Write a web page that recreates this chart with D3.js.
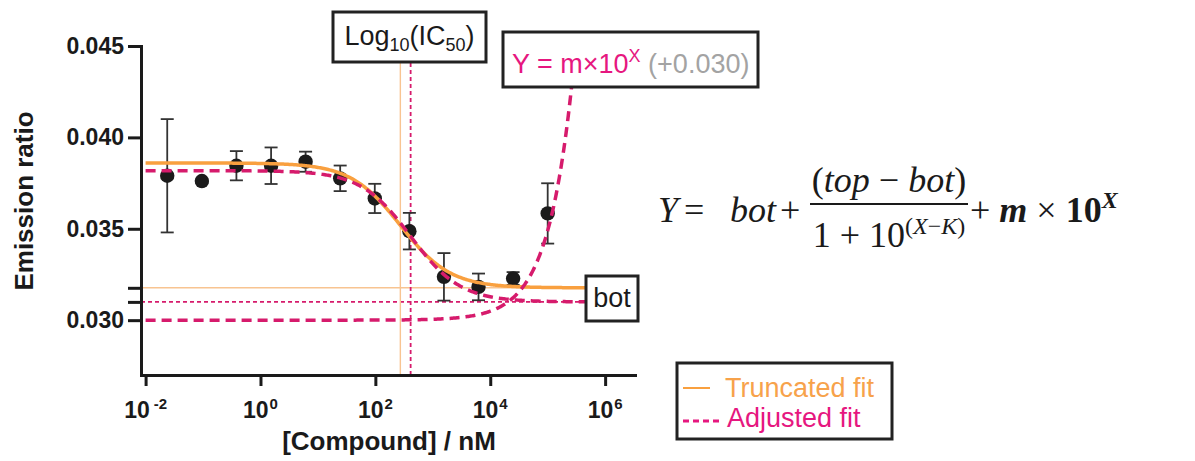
<!DOCTYPE html>
<html>
<head>
<meta charset="utf-8">
<script src="https://cdn.jsdelivr.net/npm/d3@7"></script>
<style>
  body { margin: 0; background: #fff; }
  svg { display: block; font-family: "Liberation Sans", Arial, sans-serif; }
  .axis path, .axis line { stroke: #1a1a1a; stroke-width: 3; }
  .axis text { font-weight: bold; font-size: 23px; fill: #1a1a1a; }
</style>
</head>
<body>
<svg width="1195" height="461"></svg>
<script>
// concentrations (nM), 4-fold dilution series
var concentrations = [0.0238, 0.0954, 0.381, 1.53, 6.10, 24.4, 97.7, 391, 1563, 6250, 25000, 100000]
var ratioMean = [0.0379, 0.03761, 0.03845, 0.03845, 0.03867, 0.03776, 0.03666, 0.03487, 0.03237, 0.03182, 0.03228, 0.03584]
var ratioSD = [0.0031, 0.0001, 0.0008, 0.001, 0.00055, 0.0007, 0.0008, 0.001, 0.0013, 0.00073, 0.00035, 0.00165]

var xTicks = [1e-2, 1e0, 1e2, 1e4, 1e6]
var xTickExp = ['-2', '0', '2', '4', '6']
var yTicks = [0.030, 0.035, 0.040, 0.045]

// fitted parameters
var truncTop = 0.0386, truncBot = 0.03177, truncLogIC50 = 2.435
var adjTop = 0.03818, adjBot = 0.0310, adjLogIC50 = 2.614
var slopeM = 4.9e-8, expOffset = 0.030

var orange = '#f9a03f', orangeThin = '#f8c491'
var pink = '#d61b6c', pinkText = '#e6177f'

var svg = d3.select('svg')

var x = d3.scaleLog().domain([Math.pow(10, -2.08), Math.pow(10, 6.52)]).range([141, 635])
var y = d3.scaleLinear().domain([0.027, 0.045]).range([375, 46])

function sigmoid(top, bot, k) {
    return function(lx) { return bot + (top - bot) / (1 + Math.pow(10, lx - k)) }
}

// thin reference lines
svg.append('line')
    .attr('x1', x.range()[0]).attr('x2', 600)
    .attr('y1', y(truncBot)).attr('y2', y(truncBot))
    .attr('stroke', orangeThin).attr('stroke-width', 1.4)
svg.append('line')
    .attr('x1', x.range()[0]).attr('x2', 600)
    .attr('y1', y(adjBot)).attr('y2', y(adjBot))
    .attr('stroke', pink).attr('stroke-width', 1.8).attr('stroke-dasharray', '4,3')
svg.append('line')
    .attr('x1', x(Math.pow(10, truncLogIC50))).attr('x2', x(Math.pow(10, truncLogIC50)))
    .attr('y1', 375).attr('y2', 60)
    .attr('stroke', orangeThin).attr('stroke-width', 1.4)
svg.append('line')
    .attr('x1', x(Math.pow(10, adjLogIC50))).attr('x2', x(Math.pow(10, adjLogIC50)))
    .attr('y1', 375).attr('y2', 60)
    .attr('stroke', pink).attr('stroke-width', 1.8).attr('stroke-dasharray', '4,3')

// axes
var xAxis = d3.axisBottom(x).tickValues(xTicks).tickSize(11).tickSizeOuter(0).tickFormat('')
var xG = svg.append('g').attr('class', 'axis').attr('transform', 'translate(0,375)').call(xAxis)
xG.select('.domain').attr('stroke-linecap', 'square')

xTicks.forEach(function(t, i) {
    var txt = svg.append('text')
        .attr('x', x(t)).attr('y', 418)
        .attr('text-anchor', 'middle')
        .attr('font-weight', 'bold').attr('font-size', 23).attr('fill', '#1a1a1a')
    txt.append('tspan').text('10')
    txt.append('tspan').attr('dy', -9).attr('font-size', 15)
        .attr('dx', xTickExp[i].length > 1 ? 4 : 1).text(xTickExp[i])
})

var yAxis = d3.axisLeft(y).tickValues(yTicks).tickSize(13).tickSizeOuter(0).tickPadding(4).tickFormat(d3.format('.3f'))
var yG = svg.append('g').attr('class', 'axis').attr('transform', 'translate(141,0)').call(yAxis)
yG.select('.domain').attr('stroke-linecap', 'square')
yG.selectAll('.tick line').attr('stroke-width', 3)

var botAxis = d3.axisLeft(y).tickValues([truncBot, adjBot]).tickSize(13).tickFormat('')
var botG = svg.append('g').attr('class', 'axis').attr('transform', 'translate(141,0)').call(botAxis)
botG.select('.domain').remove()

svg.append('text')
    .attr('transform', 'translate(33,201) rotate(-90)')
    .attr('text-anchor', 'middle')
    .attr('font-weight', 'bold').attr('font-size', 26).attr('fill', '#1a1a1a')
    .text('Emission ratio')
svg.append('text')
    .attr('x', 389).attr('y', 450)
    .attr('text-anchor', 'middle')
    .attr('font-weight', 'bold').attr('font-size', 26).attr('fill', '#1a1a1a')
    .text('[Compound] / nM')

// error bars and points
var pts = concentrations.map(function(c, i) { return {c: c, m: ratioMean[i], sd: ratioSD[i]} })
var eb = svg.append('g').attr('stroke', '#333').attr('stroke-width', 1.8)
pts.forEach(function(d) {
    var cx = x(d.c)
    eb.append('line').attr('x1', cx).attr('x2', cx).attr('y1', y(d.m - d.sd)).attr('y2', y(d.m + d.sd))
    eb.append('line').attr('x1', cx - 6.5).attr('x2', cx + 6.5).attr('y1', y(d.m - d.sd)).attr('y2', y(d.m - d.sd))
    eb.append('line').attr('x1', cx - 6.5).attr('x2', cx + 6.5).attr('y1', y(d.m + d.sd)).attr('y2', y(d.m + d.sd))
})
svg.selectAll('.pt').data(pts).enter().append('circle')
    .attr('class', 'pt')
    .attr('cx', function(d) { return x(d.c) })
    .attr('cy', function(d) { return y(d.m) })
    .attr('r', 7.2)
    .attr('fill', '#1b1b1b')

// fitted curves
var line = d3.line()
    .x(function(d) { return x(Math.pow(10, d[0])) })
    .y(function(d) { return y(d[1]) })

var lxs = d3.range(-2, 5.9, 0.02)
var truncFit = sigmoid(truncTop, truncBot, truncLogIC50)
var adjFit = sigmoid(adjTop, adjBot, adjLogIC50)

svg.append('path')
    .attr('d', line(lxs.map(function(l) { return [l, truncFit(l)] })))
    .attr('fill', 'none').attr('stroke', orange).attr('stroke-width', 3.5)
svg.append('path')
    .attr('d', line(lxs.map(function(l) { return [l, adjFit(l)] })))
    .attr('fill', 'none').attr('stroke', pink).attr('stroke-width', 3.5).attr('stroke-dasharray', '10,6')

var expMax = Math.log10((0.0428 - expOffset) / slopeM)
var lxe = d3.range(-2, expMax, 0.02).concat([expMax])
svg.append('path')
    .attr('d', line(lxe.map(function(l) { return [l, expOffset + slopeM * Math.pow(10, l)] })))
    .attr('fill', 'none').attr('stroke', pink).attr('stroke-width', 3.5).attr('stroke-dasharray', '10,6')

// label boxes
function box(x0, y0, w, h) {
    svg.append('rect').attr('x', x0).attr('y', y0).attr('width', w).attr('height', h)
        .attr('fill', '#fff').attr('stroke', '#222').attr('stroke-width', 3)
}

box(333, 12, 153, 50)
var lg = svg.append('text').attr('x', 409.5).attr('y', 45).attr('text-anchor', 'middle')
    .attr('font-size', 27).attr('fill', '#1a1a1a')
lg.append('tspan').text('Log')
lg.append('tspan').attr('font-size', 18).attr('dy', 6).text('10')
lg.append('tspan').attr('dy', -6).text('(IC')
lg.append('tspan').attr('font-size', 18).attr('dy', 6).text('50')
lg.append('tspan').attr('dy', -6).text(')')

box(503, 32, 255, 55)
var yl = svg.append('text').attr('x', 512).attr('y', 73).attr('font-size', 27)
yl.append('tspan').attr('fill', pinkText).text('Y = m×10')
yl.append('tspan').attr('fill', pinkText).attr('font-size', 18).attr('dy', -11).text('X')
yl.append('tspan').attr('fill', '#a3a3a3').attr('dy', 11).text(' (+0.030)')

box(586, 276, 52, 45)
svg.append('text').attr('x', 612).attr('y', 307).attr('text-anchor', 'middle')
    .attr('font-size', 27).attr('fill', '#1a1a1a').text('bot')

// legend
box(677, 363, 215, 76)
svg.append('line').attr('x1', 683).attr('x2', 710).attr('y1', 388).attr('y2', 388)
    .attr('stroke', orange).attr('stroke-width', 2)
svg.append('text').attr('x', 725).attr('y', 397).attr('font-size', 27).attr('fill', '#f7a24b').text('Truncated fit')
svg.append('line').attr('x1', 683).attr('x2', 719).attr('y1', 421).attr('y2', 421)
    .attr('stroke', pinkText).attr('stroke-width', 3).attr('stroke-dasharray', '6,4')
svg.append('text').attr('x', 727).attr('y', 427).attr('font-size', 27).attr('fill', pinkText).text('Adjusted fit')

// model equation
var eq = svg.append('g').attr('font-family', '"Liberation Serif", "DejaVu Serif", serif').attr('fill', '#1a1a1a')
eq.append('text').attr('x', 658).attr('y', 222).attr('font-size', 36).attr('font-style', 'italic').text('Y')
eq.append('text').attr('x', 684).attr('y', 222).attr('font-size', 36).text('=')
eq.append('text').attr('x', 730).attr('y', 222).attr('font-size', 36).attr('font-style', 'italic').text('bot')
eq.append('text').attr('x', 780).attr('y', 222).attr('font-size', 36).text('+')
var num = eq.append('text').attr('x', 889).attr('y', 192).attr('font-size', 36).attr('text-anchor', 'middle')
num.append('tspan').text('(')
num.append('tspan').attr('font-style', 'italic').text('top')
num.append('tspan').text(' − ')
num.append('tspan').attr('font-style', 'italic').text('bot')
num.append('tspan').text(')')
eq.append('line').attr('x1', 810).attr('x2', 968).attr('y1', 204).attr('y2', 204)
    .attr('stroke', '#1a1a1a').attr('stroke-width', 1.8)
var den = eq.append('text').attr('x', 889).attr('y', 247).attr('font-size', 36).attr('text-anchor', 'middle')
den.append('tspan').text('1 + 10')
den.append('tspan').attr('font-size', 24).attr('dy', -13).text('(')
den.append('tspan').attr('font-size', 24).attr('font-style', 'italic').text('X')
den.append('tspan').attr('font-size', 24).text('−')
den.append('tspan').attr('font-size', 24).attr('font-style', 'italic').text('K')
den.append('tspan').attr('font-size', 24).text(')')
var tail = eq.append('text').attr('x', 970).attr('y', 222).attr('font-size', 36)
tail.append('tspan').text('+ ')
tail.append('tspan').attr('font-style', 'italic').attr('font-weight', 'bold').text('m')
tail.append('tspan').text(' × ')
tail.append('tspan').attr('font-weight', 'bold').text('10')
tail.append('tspan').attr('font-size', 24).attr('font-style', 'italic').attr('font-weight', 'bold').attr('dy', -14).text('X')
</script>
</body>
</html>
